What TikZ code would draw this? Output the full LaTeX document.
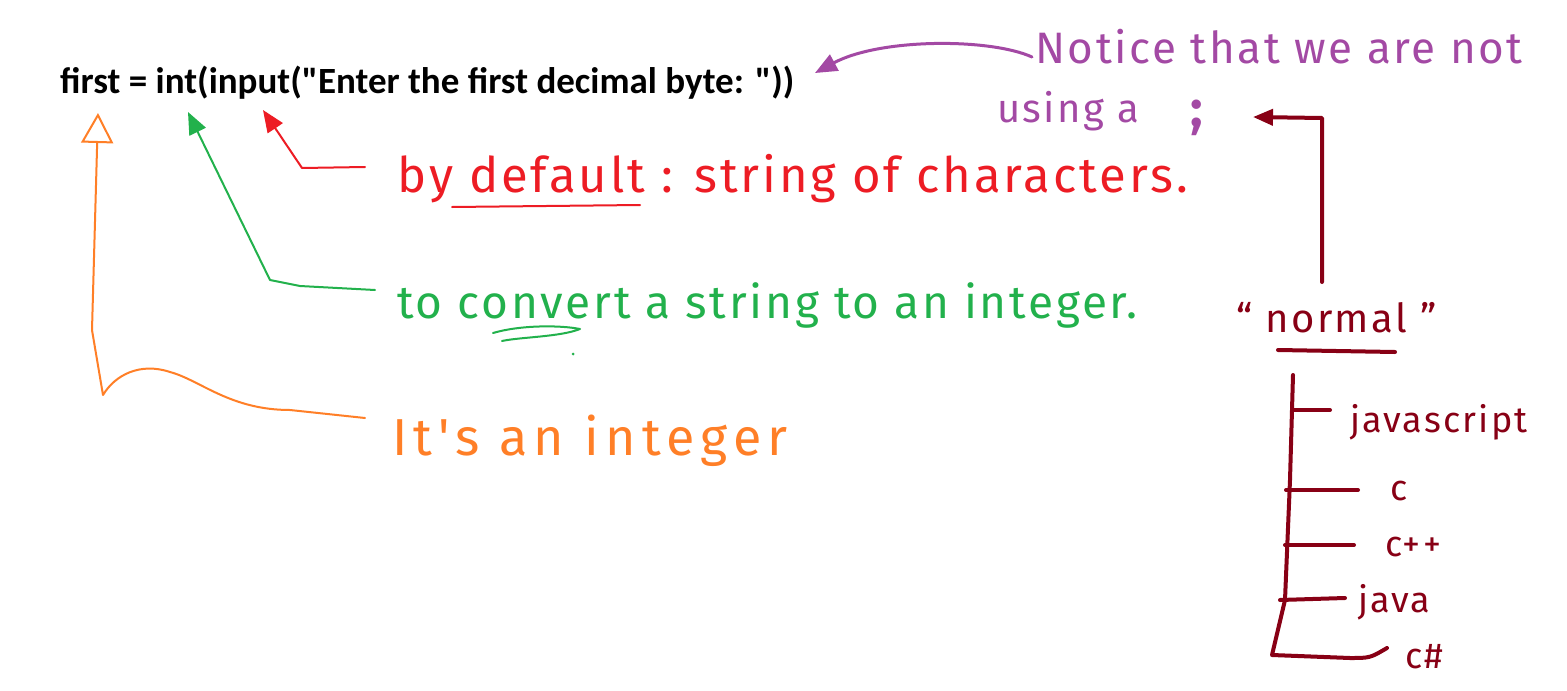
\documentclass[tikz,border=0pt]{standalone}
\usepackage{fontspec}
\setmainfont{Carlito}[Ligatures=TeXOff]
\newfontfamily\hand[LetterSpace=6]{Fira Sans}
\newfontfamily\handwide[LetterSpace=12]{Fira Sans}
\usetikzlibrary{arrows.meta}
\definecolor{pred}{HTML}{ED1C24}
\definecolor{pgreen}{HTML}{22B14C}
\definecolor{porange}{HTML}{FF7F27}
\definecolor{ppurple}{HTML}{A349A4}
\definecolor{pmaroon}{HTML}{880015}
\tikzset{
  hw/.style={anchor=base west, inner sep=0pt, text=#1},
  pen/.style={draw=#1, line width=2pt, line cap=round, line join=round},
  fat/.style={draw=#1, line width=4pt, line cap=round, line join=round},
  tipfill/.style={-{Triangle[length=22pt,width=18pt]}},
  tipopen/.style={-{Triangle[open,length=30pt,width=32pt]}},
}
\begin{document}
\begin{tikzpicture}[x=1pt,y=-1pt]
\useasboundingbox[fill=white] (0,0) rectangle (1567,691);

% code line
\node[anchor=base west, inner sep=0pt, font=\bfseries\fontsize{37}{44}\selectfont] (code) at (60,93)
  {first = int(input("Enter the first decimal byte: "))};

% purple note
\node[hw=ppurple, font=\hand\fontsize{44}{50}\selectfont] (notice) at (1035,63) {Notice that we are not};
\node[hw=ppurple, font=\hand\fontsize{40}{46}\selectfont] (using) at (997,122) {using a};
\node[hw=ppurple, font=\hand\bfseries\fontsize{52}{56}\selectfont] (semi) at (1190,126) {;};
\coordinate (ptip) at (815,73);
\draw[pen=ppurple, line width=3pt, tipfill] (notice.base west) ++(-3,-6) .. controls (990,38) and (880,38) .. (ptip);

% red note
\node[hw=pred, font=\hand\fontsize{49}{55}\selectfont] (red) at (397,192) {by default : string of characters.};
\coordinate (rtip) at (263,110);
\coordinate (rstart) at (365,167);
\draw[pen=pred, tipfill] (rstart) -- (302,168) -- (rtip);
\draw[pen=pred] (452,207) -- (640,205);

% green note
\node[hw=pgreen, font=\hand\fontsize{46}{52}\selectfont] (green) at (397,318) {to convert a string to an integer.};
\coordinate (gtip) at (188,112);
\coordinate (gstart) at (375,290);
\draw[pen=pgreen, tipfill] (gstart) -- (300,286) -- (270,280) -- (gtip);
\draw[pen=pgreen] (493,333) .. controls (520,325) and (560,325) .. (580,329) .. controls (560,337) and (520,337) .. (502,341);
\fill[pgreen] (573,354) circle (1.5);

% orange note
\node[hw=porange, font=\handwide\fontsize{52}{58}\selectfont] (orange) at (392,455) {It's an integer};
\coordinate (otip) at (98,113);
\coordinate (ostart) at (365,418);
\draw[pen=porange, tipopen] (ostart) -- (290,410) .. controls (230,410) and (200,380) .. (170,372)
  .. controls (140,362) and (115,375) .. (103,395) -- (92,330) -- (otip);

% maroon: normal
\node[hw=pmaroon, font=\hand\fontsize{40}{46}\selectfont] (normal) at (1236,332) {“ normal ”};
\draw[fat=pmaroon] (1278,350) -- (1395,352);
\coordinate (mtip) at (1253,117);
\coordinate (mstart) at (1322,282);
\draw[fat=pmaroon, -{Triangle[length=20pt,width=16pt]}] (mstart) -- (1322,118) -- (mtip);

% tree
\node[hw=pmaroon, font=\hand\fontsize{36}{42}\selectfont] (js) at (1350,432) {javascript};
\node[hw=pmaroon, font=\hand\fontsize{36}{42}\selectfont] (c) at (1390,500) {c};
\node[hw=pmaroon, font=\hand\fontsize{36}{42}\selectfont] (cpp) at (1385,556) {c++};
\node[hw=pmaroon, font=\hand\fontsize{36}{42}\selectfont] (java) at (1358,612) {java};
\node[hw=pmaroon, font=\hand\fontsize{36}{42}\selectfont] (cs) at (1405,668) {c\#};
\draw[fat=pmaroon] (1293,375) -- (1290,480) -- (1285,600) -- (1272,655) -- (1350,658) .. controls (1370,658) .. (1387,648);
\draw[fat=pmaroon] (1293,410) -- (1330,410);
\draw[fat=pmaroon] (1286,490) -- (1358,490);
\draw[fat=pmaroon] (1285,545) -- (1354,545);
\draw[fat=pmaroon] (1280,600) -- (1345,598);
\end{tikzpicture}
\end{document}
